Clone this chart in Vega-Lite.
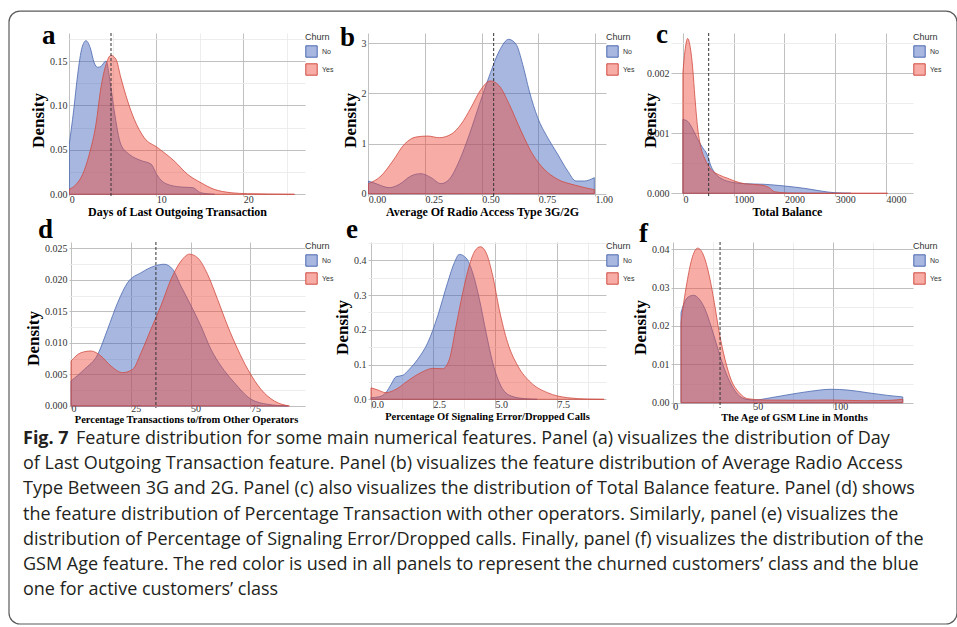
{
  "$schema": "https://vega.github.io/schema/vega-lite/v6.json",
  "autosize": {"type": "pad"},
  "padding": {"left": 8, "top": 10, "right": 0, "bottom": 2},
  "background": "white",
  "columns": 5,
  "bounds": "flush",
  "align": "each",
  "spacing": {"row": 46, "column": 0},
  "resolve": {"scale": {"x": "independent", "y": "independent"}, "legend": {"fill": "independent", "stroke": "independent"}},
  "concat": [
    {
      "width": 236, "height": 163,
      "title": {"text": "a", "dx": -27, "dy": 21},
      "data": {"values": [
        {"c":"No","x":0,"d":0.0563},{"c":"No","x":0.5,"d":0.094},{"c":"No","x":0.97,"d":0.135},{"c":"No","x":1.46,"d":0.165},{"c":"No","x":1.92,"d":0.173},{"c":"No","x":2.41,"d":0.165},{"c":"No","x":2.87,"d":0.148},{"c":"No","x":3.26,"d":0.143},{"c":"No","x":3.64,"d":0.144},{"c":"No","x":4.22,"d":0.15},{"c":"No","x":4.79,"d":0.12},{"c":"No","x":5.17,"d":0.094},{"c":"No","x":5.94,"d":0.056},{"c":"No","x":6.9,"d":0.045},{"c":"No","x":8.24,"d":0.038},{"c":"No","x":9.39,"d":0.034},{"c":"No","x":10.16,"d":0.0206},{"c":"No","x":11.1,"d":0.012},{"c":"No","x":12.84,"d":0.0082},{"c":"No","x":14.2,"d":0.0075},{"c":"No","x":15.1,"d":0.0018},{"c":"No","x":16.7,"d":0},
        {"c":"Yes","x":0,"d":0.0056},{"c":"Yes","x":0.77,"d":0.011},{"c":"Yes","x":1.54,"d":0.0225},{"c":"Yes","x":2.3,"d":0.045},{"c":"Yes","x":3.07,"d":0.079},{"c":"Yes","x":3.64,"d":0.12},{"c":"Yes","x":4.22,"d":0.146},{"c":"Yes","x":4.79,"d":0.1565},{"c":"Yes","x":5.37,"d":0.152},{"c":"Yes","x":5.94,"d":0.131},{"c":"Yes","x":6.71,"d":0.105},{"c":"Yes","x":7.47,"d":0.0845},{"c":"Yes","x":8.62,"d":0.0637},{"c":"Yes","x":10.16,"d":0.0525},{"c":"Yes","x":12.07,"d":0.0375},{"c":"Yes","x":13.6,"d":0.0225},{"c":"Yes","x":15.14,"d":0.013},{"c":"Yes","x":16.67,"d":0.0056},{"c":"Yes","x":18.6,"d":0.0018},{"c":"Yes","x":20.5,"d":0.0007},{"c":"Yes","x":22.8,"d":0.0003},{"c":"Yes","x":25.9,"d":0}
      ]},
      "layer": [
        {
          "mark": {"type": "area", "interpolate": "monotone", "fillOpacity": 0.45, "strokeWidth": 0.8, "clip": true},
          "encoding": {
            "x": {"field": "x", "type": "quantitative", "scale": {"domain": [-0.03, 27.1], "nice": false, "zero": false},
              "axis": {"title": "Days of Last Outgoing Transaction", "titleX": 108, "values": [0,5,10,15,20,25],
                "labelExpr": "abs(datum.value/10 - round(datum.value/10)) < 0.001 ? datum.label : ''",
                "gridColor": {"condition": {"test": "abs(datum.value/10 - round(datum.value/10)) < 0.001", "value": "#b9b9b9"}, "value": "#ebebeb"}}},
            "y": {"field": "d", "type": "quantitative", "stack": null, "scale": {"domain": [-0.0019, 0.1816], "nice": false, "zero": false},
              "axis": {"title": "Density", "titleY": 87, "format": ".2f", "values": [0,0.025,0.05,0.075,0.1,0.125,0.15,0.175],
                "labelExpr": "abs(datum.value/0.05 - round(datum.value/0.05)) < 0.001 ? datum.label : ''",
                "gridColor": {"condition": {"test": "abs(datum.value/0.05 - round(datum.value/0.05)) < 0.001", "value": "#b9b9b9"}, "value": "#ebebeb"}}},
            "fill": {"field": "c", "type": "nominal", "scale": {"domain": ["No","Yes"], "range": ["#3d60b8","#ee4a3a"]}, "legend": {"title": "Churn", "encode": {"symbols": {"update": {"fillOpacity": {"value": 0.45}}}}}},
            "stroke": {"field": "c", "type": "nominal", "scale": {"domain": ["No","Yes"], "range": ["#4a68b0","#cf4a40"]}, "legend": {"title": "Churn", "encode": {"symbols": {"update": {"fillOpacity": {"value": 0.45}}}}}}
          }
        },
        {"data": {"values": [{"m": 4.8}]}, "mark": {"type": "rule", "strokeDash": [3,2], "color": "#333333", "strokeWidth": 1}, "encoding": {"x": {"field": "m", "type": "quantitative", "title": "Days of Last Outgoing Transaction"}}}
      ]
    },
    {"width": 63, "height": 163, "data": {"values": []}, "mark": "text"},
    {
      "width": 238, "height": 163,
      "title": {"text": "b", "dx": -28, "dy": 23},
      "data": {"values": [
        {"c":"No","x":0,"d":0.253},{"c":"No","x":0.034,"d":0.2},{"c":"No","x":0.093,"d":0.12},{"c":"No","x":0.137,"d":0.187},{"c":"No","x":0.188,"d":0.353},{"c":"No","x":0.232,"d":0.4},{"c":"No","x":0.277,"d":0.32},{"c":"No","x":0.321,"d":0.2},{"c":"No","x":0.357,"d":0.287},{"c":"No","x":0.401,"d":0.652},{"c":"No","x":0.446,"d":1.185},{"c":"No","x":0.49,"d":1.78},{"c":"No","x":0.534,"d":2.35},{"c":"No","x":0.578,"d":2.85},{"c":"No","x":0.619,"d":3.08},{"c":"No","x":0.652,"d":2.98},{"c":"No","x":0.681,"d":2.58},{"c":"No","x":0.71,"d":2.05},{"c":"No","x":0.747,"d":1.52},{"c":"No","x":0.791,"d":1.12},{"c":"No","x":0.835,"d":0.79},{"c":"No","x":0.88,"d":0.45},{"c":"No","x":0.916,"d":0.253},{"c":"No","x":0.953,"d":0.253},{"c":"No","x":0.997,"d":0.32},
        {"c":"Yes","x":0,"d":0.2},{"c":"Yes","x":0.056,"d":0.353},{"c":"Yes","x":0.108,"d":0.652},{"c":"Yes","x":0.159,"d":0.985},{"c":"Yes","x":0.21,"d":1.13},{"c":"Yes","x":0.262,"d":1.15},{"c":"Yes","x":0.313,"d":1.117},{"c":"Yes","x":0.365,"d":1.185},{"c":"Yes","x":0.409,"d":1.384},{"c":"Yes","x":0.453,"d":1.716},{"c":"Yes","x":0.497,"d":2.08},{"c":"Yes","x":0.538,"d":2.25},{"c":"Yes","x":0.578,"d":2.15},{"c":"Yes","x":0.622,"d":1.78},{"c":"Yes","x":0.674,"d":1.25},{"c":"Yes","x":0.725,"d":0.785},{"c":"Yes","x":0.776,"d":0.487},{"c":"Yes","x":0.835,"d":0.287},{"c":"Yes","x":0.909,"d":0.173},{"c":"Yes","x":0.997,"d":0.08}
      ]},
      "layer": [
        {
          "mark": {"type": "area", "interpolate": "monotone", "fillOpacity": 0.45, "strokeWidth": 0.8, "clip": true},
          "encoding": {
            "x": {"field": "x", "type": "quantitative", "scale": {"domain": [-0.0013, 1.0485], "nice": false, "zero": false},
              "axis": {"title": "Average Of Radio Access Type 3G/2G", "titleX": 114, "format": ".2f", "values": [0,0.125,0.25,0.375,0.5,0.625,0.75,0.875,1],
                "labelExpr": "abs(datum.value/0.25 - round(datum.value/0.25)) < 0.001 ? datum.label : ''",
                "gridColor": {"condition": {"test": "abs(datum.value/0.25 - round(datum.value/0.25)) < 0.001", "value": "#b9b9b9"}, "value": "#ebebeb"}}},
            "y": {"field": "d", "type": "quantitative", "stack": null, "scale": {"domain": [-0.046, 3.206], "nice": false, "zero": false},
              "axis": {"title": "Density", "titleY": 87, "format": "d", "values": [0,0.5,1,1.5,2,2.5,3],
                "labelExpr": "abs(datum.value - round(datum.value)) < 0.001 ? datum.label : ''",
                "gridColor": {"condition": {"test": "abs(datum.value - round(datum.value)) < 0.001", "value": "#b9b9b9"}, "value": "#ebebeb"}}},
            "fill": {"field": "c", "type": "nominal", "scale": {"domain": ["No","Yes"], "range": ["#3d60b8","#ee4a3a"]}, "legend": {"title": "Churn", "encode": {"symbols": {"update": {"fillOpacity": {"value": 0.45}}}}}},
            "stroke": {"field": "c", "type": "nominal", "scale": {"domain": ["No","Yes"], "range": ["#4a68b0","#cf4a40"]}, "legend": {"title": "Churn", "encode": {"symbols": {"update": {"fillOpacity": {"value": 0.45}}}}}}
          }
        },
        {"data": {"values": [{"m": 0.553}]}, "mark": {"type": "rule", "strokeDash": [3,2], "color": "#333333", "strokeWidth": 1}, "encoding": {"x": {"field": "m", "type": "quantitative", "title": "Average Of Radio Access Type 3G/2G"}}}
      ]
    },
    {"width": 65, "height": 163, "data": {"values": []}, "mark": "text"},
    {
      "width": 242, "height": 163,
      "title": {"text": "c", "dx": -15, "dy": 20},
      "data": {"values": [
        {"c":"No","x":0,"d":0.00123},{"c":"No","x":94,"d":0.0012},{"c":"No","x":193,"d":0.00107},{"c":"No","x":291,"d":0.0009},{"c":"No","x":390,"d":0.00076},{"c":"No","x":475,"d":0.00065},{"c":"No","x":553,"d":0.000455},{"c":"No","x":652,"d":0.000317},{"c":"No","x":784,"d":0.000233},{"c":"No","x":947,"d":0.000188},{"c":"No","x":1210,"d":0.00016},{"c":"No","x":1604,"d":0.00015},{"c":"No","x":1998,"d":0.000122},{"c":"No","x":2392,"d":0.000083},{"c":"No","x":2720,"d":0.000038},{"c":"No","x":2982,"d":0.00001},{"c":"No","x":3311,"d":0},
        {"c":"Yes","x":0,"d":0.00201},{"c":"Yes","x":41,"d":0.00237},{"c":"Yes","x":94,"d":0.00258},{"c":"Yes","x":146,"d":0.00243},{"c":"Yes","x":193,"d":0.00209},{"c":"Yes","x":238,"d":0.00159},{"c":"Yes","x":291,"d":0.00109},{"c":"Yes","x":357,"d":0.00076},{"c":"Yes","x":435,"d":0.00057},{"c":"Yes","x":553,"d":0.0004},{"c":"Yes","x":717,"d":0.000305},{"c":"Yes","x":882,"d":0.00025},{"c":"Yes","x":1013,"d":0.000205},{"c":"Yes","x":1210,"d":0.00016},{"c":"Yes","x":1538,"d":0.000138},{"c":"Yes","x":1702,"d":0.000093},{"c":"Yes","x":1801,"d":0.000027},{"c":"Yes","x":2064,"d":0.000005},{"c":"Yes","x":2500,"d":0},{"c":"Yes","x":4033,"d":0}
      ]},
      "layer": [
        {
          "mark": {"type": "area", "interpolate": "monotone", "fillOpacity": 0.45, "strokeWidth": 0.8, "clip": true},
          "encoding": {
            "x": {"field": "x", "type": "quantitative", "scale": {"domain": [-234, 4532], "nice": false, "zero": false},
              "axis": {"title": "Total Balance", "titleX": 116, "format": "d", "values": [0,500,1000,1500,2000,2500,3000,3500,4000],
                "labelExpr": "abs(datum.value/1000 - round(datum.value/1000)) < 0.001 ? datum.label : ''",
                "gridColor": {"condition": {"test": "abs(datum.value/1000 - round(datum.value/1000)) < 0.001", "value": "#b9b9b9"}, "value": "#ebebeb"}}},
            "y": {"field": "d", "type": "quantitative", "stack": null, "scale": {"domain": [-0.000045, 0.002672], "nice": false, "zero": false},
              "axis": {"title": "Density", "titleY": 87, "titleX": -12, "labelDx": 12, "format": ".3f", "values": [0,0.0005,0.001,0.0015,0.002,0.0025],
                "labelExpr": "abs(datum.value/0.001 - round(datum.value/0.001)) < 0.001 ? datum.label : ''",
                "gridColor": {"condition": {"test": "abs(datum.value/0.001 - round(datum.value/0.001)) < 0.001", "value": "#b9b9b9"}, "value": "#ebebeb"}}},
            "fill": {"field": "c", "type": "nominal", "scale": {"domain": ["No","Yes"], "range": ["#3d60b8","#ee4a3a"]}, "legend": {"title": "Churn", "encode": {"symbols": {"update": {"fillOpacity": {"value": 0.45}}}}}},
            "stroke": {"field": "c", "type": "nominal", "scale": {"domain": ["No","Yes"], "range": ["#4a68b0","#cf4a40"]}, "legend": {"title": "Churn", "encode": {"symbols": {"update": {"fillOpacity": {"value": 0.45}}}}}}
          }
        },
        {"data": {"values": [{"m": 508}]}, "mark": {"type": "rule", "strokeDash": [3,2], "color": "#333333", "strokeWidth": 1}, "encoding": {"x": {"field": "m", "type": "quantitative", "title": "Total Balance"}}}
      ]
    },
    {
      "width": 236, "height": 166,
      "title": {"text": "d", "dx": -31, "dy": 6},
      "data": {"values": [
        {"c":"No","x":0,"d":0.00397},{"c":"No","x":5.6,"d":0.00582},{"c":"No","x":11.2,"d":0.0082},{"c":"No","x":15.3,"d":0.01217},{"c":"No","x":19.5,"d":0.0164},{"c":"No","x":23.7,"d":0.0196},{"c":"No","x":29.3,"d":0.02116},{"c":"No","x":34.8,"d":0.0222},{"c":"No","x":39,"d":0.0225},{"c":"No","x":42.5,"d":0.0217},{"c":"No","x":46,"d":0.019},{"c":"No","x":50.2,"d":0.0159},{"c":"No","x":54.3,"d":0.0127},{"c":"No","x":58.5,"d":0.009},{"c":"No","x":62.7,"d":0.00635},{"c":"No","x":68.3,"d":0.0037},{"c":"No","x":75.3,"d":0.00106},{"c":"No","x":82.2,"d":0.00027},{"c":"No","x":90.6,"d":0},
        {"c":"Yes","x":0,"d":0.00714},{"c":"Yes","x":4.2,"d":0.00846},{"c":"Yes","x":8.4,"d":0.00873},{"c":"Yes","x":12.5,"d":0.00794},{"c":"Yes","x":16.7,"d":0.00635},{"c":"Yes","x":21.6,"d":0.00529},{"c":"Yes","x":25.8,"d":0.00582},{"c":"Yes","x":29.3,"d":0.00846},{"c":"Yes","x":33.4,"d":0.01217},{"c":"Yes","x":37.6,"d":0.0159},{"c":"Yes","x":41.8,"d":0.0201},{"c":"Yes","x":46,"d":0.023},{"c":"Yes","x":49.5,"d":0.0241},{"c":"Yes","x":53,"d":0.0235},{"c":"Yes","x":57.1,"d":0.0209},{"c":"Yes","x":61.3,"d":0.0169},{"c":"Yes","x":65.5,"d":0.0127},{"c":"Yes","x":69.7,"d":0.009},{"c":"Yes","x":73.9,"d":0.00582},{"c":"Yes","x":79.4,"d":0.00265},{"c":"Yes","x":85,"d":0.00079},{"c":"Yes","x":91.3,"d":0}
      ]},
      "layer": [
        {
          "mark": {"type": "area", "interpolate": "monotone", "fillOpacity": 0.45, "strokeWidth": 0.8, "clip": true},
          "encoding": {
            "x": {"field": "x", "type": "quantitative", "scale": {"domain": [-0.836, 97.83], "nice": false, "zero": false},
              "axis": {"title": "Percentage Transactions to/from Other Operators", "titleX": 117, "titleY": 6, "titleBaseline": "top", "titleFontSize": 10.5, "labelDx": 8, "labelPadding": -5, "format": "d", "values": [0,12.5,25,37.5,50,62.5,75,87.5],
                "labelExpr": "abs(datum.value/25 - round(datum.value/25)) < 0.001 ? datum.label : ''",
                "gridColor": {"condition": {"test": "abs(datum.value/25 - round(datum.value/25)) < 0.001", "value": "#b9b9b9"}, "value": "#ebebeb"}}},
            "y": {"field": "d", "type": "quantitative", "stack": null, "scale": {"domain": [-0.00032, 0.02603], "nice": false, "zero": false},
              "axis": {"title": "Density", "titleY": 96, "format": ".3f", "values": [0,0.0025,0.005,0.0075,0.01,0.0125,0.015,0.0175,0.02,0.0225,0.025],
                "labelExpr": "abs(datum.value/0.005 - round(datum.value/0.005)) < 0.001 ? datum.label : ''",
                "gridColor": {"condition": {"test": "abs(datum.value/0.005 - round(datum.value/0.005)) < 0.001", "value": "#b9b9b9"}, "value": "#ebebeb"}}},
            "fill": {"field": "c", "type": "nominal", "scale": {"domain": ["No","Yes"], "range": ["#3d60b8","#ee4a3a"]}, "legend": {"title": "Churn", "encode": {"symbols": {"update": {"fillOpacity": {"value": 0.45}}}}}},
            "stroke": {"field": "c", "type": "nominal", "scale": {"domain": ["No","Yes"], "range": ["#4a68b0","#cf4a40"]}, "legend": {"title": "Churn", "encode": {"symbols": {"update": {"fillOpacity": {"value": 0.45}}}}}}
          }
        },
        {"data": {"values": [{"m": 35.5}]}, "mark": {"type": "rule", "strokeDash": [3,2], "color": "#333333", "strokeWidth": 1}, "encoding": {"x": {"field": "m", "type": "quantitative", "title": "Percentage Transactions to/from Other Operators"}}}
      ]
    },
    {"width": 63, "height": 166, "data": {"values": []}, "mark": "text"},
    {
      "width": 238, "height": 166,
      "title": {"text": "e", "dx": -22, "dy": 10},
      "data": {"values": [
        {"c":"No","x":0,"d":0.0046},{"c":"No","x":0.34,"d":0.0075},{"c":"No","x":0.6,"d":0.019},{"c":"No","x":0.81,"d":0.043},{"c":"No","x":1.01,"d":0.065},{"c":"No","x":1.28,"d":0.069},{"c":"No","x":1.54,"d":0.086},{"c":"No","x":1.88,"d":0.115},{"c":"No","x":2.29,"d":0.163},{"c":"No","x":2.69,"d":0.24},{"c":"No","x":3.09,"d":0.336},{"c":"No","x":3.36,"d":0.393},{"c":"No","x":3.56,"d":0.417},{"c":"No","x":3.83,"d":0.407},{"c":"No","x":4.1,"d":0.364},{"c":"No","x":4.37,"d":0.288},{"c":"No","x":4.64,"d":0.192},{"c":"No","x":4.91,"d":0.105},{"c":"No","x":5.24,"d":0.038},{"c":"No","x":5.65,"d":0.0095},{"c":"No","x":6.18,"d":0.002},{"c":"No","x":6.7,"d":0},
        {"c":"Yes","x":0,"d":0.033},{"c":"Yes","x":0.27,"d":0.027},{"c":"Yes","x":0.6,"d":0.019},{"c":"Yes","x":1.01,"d":0.029},{"c":"Yes","x":1.48,"d":0.053},{"c":"Yes","x":2.02,"d":0.077},{"c":"Yes","x":2.49,"d":0.089},{"c":"Yes","x":2.89,"d":0.088},{"c":"Yes","x":3.16,"d":0.115},{"c":"Yes","x":3.43,"d":0.211},{"c":"Yes","x":3.7,"d":0.307},{"c":"Yes","x":3.96,"d":0.384},{"c":"Yes","x":4.19,"d":0.427},{"c":"Yes","x":4.41,"d":0.439},{"c":"Yes","x":4.64,"d":0.422},{"c":"Yes","x":4.91,"d":0.355},{"c":"Yes","x":5.17,"d":0.259},{"c":"Yes","x":5.51,"d":0.163},{"c":"Yes","x":5.92,"d":0.096},{"c":"Yes","x":6.45,"d":0.048},{"c":"Yes","x":7.12,"d":0.019},{"c":"Yes","x":7.93,"d":0.0046},{"c":"Yes","x":8.74,"d":0.0007},{"c":"Yes","x":9.4,"d":0}
      ]},
      "layer": [
        {
          "mark": {"type": "area", "interpolate": "monotone", "fillOpacity": 0.45, "strokeWidth": 0.8, "clip": true},
          "encoding": {
            "x": {"field": "x", "type": "quantitative", "scale": {"domain": [-0.121, 9.476], "nice": false, "zero": false},
              "axis": {"title": "Percentage Of Signaling Error/Dropped Calls", "titleY": 3, "titleBaseline": "top", "titleFontSize": 10.5, "labelPadding": -9, "format": ".1f", "values": [0,1.25,2.5,3.75,5,6.25,7.5,8.75],
                "labelExpr": "abs(datum.value/2.5 - round(datum.value/2.5)) < 0.001 ? datum.label : ''",
                "gridColor": {"condition": {"test": "abs(datum.value/2.5 - round(datum.value/2.5)) < 0.001", "value": "#b9b9b9"}, "value": "#ebebeb"}}},
            "y": {"field": "d", "type": "quantitative", "stack": null, "scale": {"domain": [-0.025, 0.4527], "nice": false, "zero": false},
              "axis": {"title": "Density", "titleY": 85, "labelDx": 3, "format": ".1f", "values": [0,0.05,0.1,0.15,0.2,0.25,0.3,0.35,0.4,0.45],
                "labelExpr": "abs(datum.value/0.1 - round(datum.value/0.1)) < 0.001 ? datum.label : ''",
                "gridColor": {"condition": {"test": "abs(datum.value/0.1 - round(datum.value/0.1)) < 0.001", "value": "#b9b9b9"}, "value": "#ebebeb"}}},
            "fill": {"field": "c", "type": "nominal", "scale": {"domain": ["No","Yes"], "range": ["#3d60b8","#ee4a3a"]}, "legend": {"title": "Churn", "encode": {"symbols": {"update": {"fillOpacity": {"value": 0.45}}}}}},
            "stroke": {"field": "c", "type": "nominal", "scale": {"domain": ["No","Yes"], "range": ["#4a68b0","#cf4a40"]}, "legend": {"title": "Churn", "encode": {"symbols": {"update": {"fillOpacity": {"value": 0.45}}}}}}
          }
        }
      ]
    },
    {"width": 65, "height": 166, "data": {"values": []}, "mark": "text"},
    {
      "width": 242, "height": 166,
      "title": {"text": "f", "dx": -32, "dy": 10},
      "data": {"values": [
        {"c":"No","x":5.2,"d":0.0235},{"c":"No","x":7.3,"d":0.0261},{"c":"No","x":9.8,"d":0.0276},{"c":"No","x":13.1,"d":0.028},{"c":"No","x":16.6,"d":0.027},{"c":"No","x":20.2,"d":0.0244},{"c":"No","x":23.9,"d":0.02},{"c":"No","x":27.7,"d":0.0148},{"c":"No","x":31.3,"d":0.01},{"c":"No","x":35.4,"d":0.0057},{"c":"No","x":40.6,"d":0.0022},{"c":"No","x":45.8,"d":0.0009},{"c":"No","x":51,"d":0.0007},{"c":"No","x":61.4,"d":0.0013},{"c":"No","x":73.9,"d":0.0022},{"c":"No","x":86.4,"d":0.003},{"c":"No","x":98.9,"d":0.0035},{"c":"No","x":109.4,"d":0.0033},{"c":"No","x":121.9,"d":0.0026},{"c":"No","x":134.4,"d":0.0019},{"c":"No","x":143.8,"d":0.0015},
        {"c":"Yes","x":5.2,"d":0.0209},{"c":"Yes","x":6.9,"d":0.0261},{"c":"Yes","x":8.9,"d":0.0313},{"c":"Yes","x":11.9,"d":0.0374},{"c":"Yes","x":15.6,"d":0.0403},{"c":"Yes","x":19.4,"d":0.0383},{"c":"Yes","x":22.9,"d":0.033},{"c":"Yes","x":26,"d":0.0261},{"c":"Yes","x":29.1,"d":0.0183},{"c":"Yes","x":32.7,"d":0.0113},{"c":"Yes","x":36.4,"d":0.0061},{"c":"Yes","x":41.6,"d":0.0026},{"c":"Yes","x":46.9,"d":0.00104},{"c":"Yes","x":57.3,"d":0.0007},{"c":"Yes","x":78,"d":0.00063},{"c":"Yes","x":99,"d":0.0007},{"c":"Yes","x":119.8,"d":0.00052},{"c":"Yes","x":136.4,"d":0.00063},{"c":"Yes","x":143.8,"d":0.00089}
      ]},
      "layer": [
        {
          "mark": {"type": "area", "interpolate": "monotone", "fillOpacity": 0.45, "strokeWidth": 0.8, "clip": true},
          "encoding": {
            "x": {"field": "x", "type": "quantitative", "scale": {"domain": [-1.06, 150.2], "nice": false, "zero": false},
              "axis": {"title": "The Age of GSM Line in Months", "titleX": 123, "titleY": 4, "titleBaseline": "top", "titleFontSize": 10.5, "labelPadding": -7, "format": "d", "values": [0,25,50,75,100,125],
                "labelExpr": "abs(datum.value/50 - round(datum.value/50)) < 0.001 ? datum.label : ''",
                "gridColor": {"condition": {"test": "abs(datum.value/50 - round(datum.value/50)) < 0.001", "value": "#b9b9b9"}, "value": "#ebebeb"}}},
            "y": {"field": "d", "type": "quantitative", "stack": null, "scale": {"domain": [-0.00138, 0.0419], "nice": false, "zero": false},
              "axis": {"title": "Density", "titleY": 85, "format": ".2f", "values": [0,0.005,0.01,0.015,0.02,0.025,0.03,0.035,0.04],
                "labelExpr": "abs(datum.value/0.01 - round(datum.value/0.01)) < 0.001 ? datum.label : ''",
                "gridColor": {"condition": {"test": "abs(datum.value/0.01 - round(datum.value/0.01)) < 0.001", "value": "#b9b9b9"}, "value": "#ebebeb"}}},
            "fill": {"field": "c", "type": "nominal", "scale": {"domain": ["No","Yes"], "range": ["#3d60b8","#ee4a3a"]}, "legend": {"title": "Churn", "encode": {"symbols": {"update": {"fillOpacity": {"value": 0.45}}}}}},
            "stroke": {"field": "c", "type": "nominal", "scale": {"domain": ["No","Yes"], "range": ["#4a68b0","#cf4a40"]}, "legend": {"title": "Churn", "encode": {"symbols": {"update": {"fillOpacity": {"value": 0.45}}}}}}
          }
        },
        {"data": {"values": [{"m": 29.6}]}, "mark": {"type": "rule", "strokeDash": [3,2], "color": "#333333", "strokeWidth": 1}, "encoding": {"x": {"field": "m", "type": "quantitative", "title": "The Age of GSM Line in Months"}}}
      ]
    },
    {
      "width": 236, "height": 150,
      "layer": [
        {
          "data": {"values": [{"x": -60, "x2": 888, "y": -15.984, "y2": 8.341}]},
          "mark": {"type": "rect", "fill": "white", "fillOpacity": 0, "stroke": "#5a5b5d", "strokeWidth": 1.2, "cornerRadius": 11},
          "encoding": {
            "x": {"field": "x", "type": "quantitative", "scale": {"domain": [0, 236], "nice": false, "zero": false}, "axis": null},
            "x2": {"field": "x2"},
            "y": {"field": "y", "type": "quantitative", "scale": {"domain": [1.595, 7.548], "reverse": true, "nice": false, "zero": false}, "axis": null},
            "y2": {"field": "y2"}
          }
        },
        {
          "data": {"values": [
            {"line": 1, "p": -46, "w": "b", "t": "Fig. 7"},
            {"line": 1, "p": 7, "w": "n", "t": "Feature distribution for some main numerical features. Panel (a) visualizes the distribution of Day"},
            {"line": 2, "p": -46, "w": "n", "t": "of Last Outgoing Transaction feature. Panel (b) visualizes the feature distribution of Average Radio Access"},
            {"line": 3, "p": -46, "w": "n", "t": "Type Between 3G and 2G. Panel (c) also visualizes the distribution of Total Balance feature. Panel (d) shows"},
            {"line": 4, "p": -46, "w": "n", "t": "the feature distribution of Percentage Transaction with other operators. Similarly, panel (e) visualizes the"},
            {"line": 5, "p": -46, "w": "n", "t": "distribution of Percentage of Signaling Error/Dropped calls. Finally, panel (f) visualizes the distribution of the"},
            {"line": 6, "p": -46, "w": "n", "t": "GSM Age feature. The red color is used in all panels to represent the churned customers’ class and the blue"},
            {"line": 7, "p": -46, "w": "n", "t": "one for active customers’ class"}
          ]},
          "layer": [
            {
              "transform": [{"filter": "datum.w == 'b'"}],
              "mark": {"type": "text", "align": "left", "baseline": "middle", "font": "Open Sans", "fontSize": 18, "fontWeight": "bold", "color": "#231f20"},
              "encoding": {
                "x": {"field": "p", "type": "quantitative", "scale": {"domain": [0, 236], "nice": false, "zero": false}, "axis": null},
                "y": {"field": "line", "type": "quantitative", "scale": {"domain": [1.595, 7.548], "reverse": true, "nice": false, "zero": false}, "axis": null},
                "text": {"field": "t"}
              }
            },
            {
              "transform": [{"filter": "datum.w == 'n'"}],
              "mark": {"type": "text", "align": "left", "baseline": "middle", "font": "Open Sans", "fontSize": 18, "color": "#231f20"},
              "encoding": {
                "x": {"field": "p", "type": "quantitative", "scale": {"domain": [0, 236], "nice": false, "zero": false}, "axis": null},
                "y": {"field": "line", "type": "quantitative", "scale": {"domain": [1.595, 7.548], "reverse": true, "nice": false, "zero": false}, "axis": null},
                "text": {"field": "t"}
              }
            }
          ]
        }
      ]
    }
  ],
  "config": {
    "view": {"stroke": null},
    "title": {"font": "Liberation Serif", "fontSize": 27, "fontWeight": "bold", "color": "#000000", "anchor": "start", "frame": "group", "offset": 0, "baseline": "alphabetic"},
    "axis": {"labelFont": "Liberation Serif", "labelFontSize": 10, "labelColor": "#333333", "titleFont": "Liberation Serif", "titleFontWeight": "bold", "titleColor": "#000000", "domain": false, "ticks": false, "gridWidth": 0.9, "labelOverlap": false},
    "axisX": {"titleFontSize": 12, "titlePadding": 2, "labelPadding": -2, "labelAlign": "left", "labelDx": 1, "labelFlush": false},
    "axisY": {"titleFontSize": 17, "titlePadding": 2, "labelPadding": 2},
    "legend": {"orient": "right", "offset": 0, "padding": 0, "titleFont": "Liberation Sans", "titleFontSize": 9, "titleFontWeight": "normal", "titleColor": "#333333", "titlePadding": 3, "labelFont": "Liberation Sans", "labelFontSize": 7, "labelColor": "#333333", "symbolType": "square", "symbolSize": 130, "symbolStrokeWidth": 1, "rowPadding": 1, "labelOffset": 4}
  }
}
